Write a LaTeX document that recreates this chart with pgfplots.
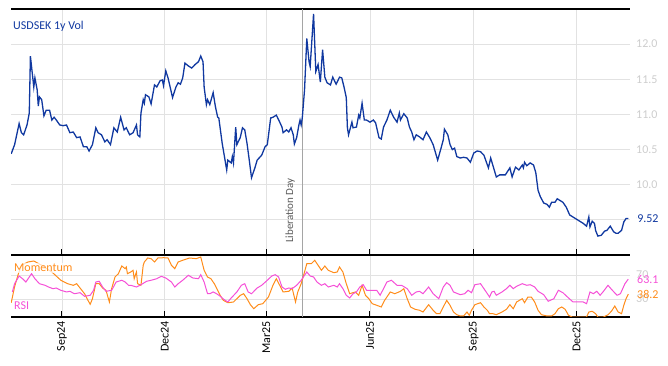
\documentclass[border=0pt]{standalone}
\usepackage{fontspec}
\setmainfont{Carlito}
\usepackage{pgfplots}
\pgfplotsset{compat=1.18}
\definecolor{volc}{RGB}{16,56,160}
\definecolor{momc}{RGB}{255,140,26}
\definecolor{rsic}{RGB}{245,80,215}
\definecolor{gridc}{RGB}{226,226,226}
\definecolor{labgray}{RGB}{205,205,205}
\definecolor{libline}{RGB}{165,165,165}
\definecolor{libtext}{RGB}{90,90,90}
\pgfplotsset{
  panel/.style={
    scale only axis, width=619bp,
    xmin=-45.2, xmax=503.5,
    separate axis lines,
    x axis line style={black, line width=1.2bp},
    y axis line style={draw=none},
    xtick={0,91,181,273,365,456},
    xtick pos=left, tick align=inside,
    major tick length=6bp,
    x tick style={black, line width=1bp},
    y tick style={draw=none},
    ytick pos=right, yticklabel pos=right,
    grid=major, major grid style={gridc, line width=0.8bp},
    tick label style={font=\fontsize{12bp}{14bp}\selectfont},
    yticklabel style={text=labgray, anchor=west, xshift=2bp},
    /pgf/number format/assume math mode=true,
  }
}
\begin{document}
\fontsize{12bp}{14bp}\selectfont
\begin{tikzpicture}
\useasboundingbox (0,0) rectangle (668bp,366bp);
% ---------------- top panel ----------------
\begin{axis}[panel, at={(11bp,111bp)}, anchor=south west, height=246bp,
  ymin=9, ymax=12.5, ytick={9.5,10,10.5,11,11.5,12},
  xticklabels={},
  yticklabel style={/pgf/number format/.cd, fixed, fixed zerofill, precision=1}]
\draw[libline, line width=1bp] (axis cs:213,9) -- (axis cs:213,12.5);
\addplot[volc, line width=1.3bp] coordinates {
(-45,10.44) (-42,10.57) (-38,10.87) (-36,10.74) (-34,10.71) (-31,10.85) (-29,11.02) (-28,11.83)
(-25,11.39) (-24,11.52) (-22,11.35) (-21,11.12) (-20,11.25) (-18,11.21) (-16,10.98) (-14,11.06)
(-11,11.06) (-9,10.92) (-7,10.96) (-5,10.92) (-2,10.85) (1,10.84) (4,10.85) (7,10.74) (10,10.75)
(13,10.67) (16,10.68) (19,10.54) (22,10.54) (24,10.48) (27,10.57) (30,10.81) (32,10.74) (35,10.71)
(38,10.61) (40,10.64) (43,10.57) (46,10.81) (49,10.75) (52,10.96) (55,10.78) (57,10.81) (60,10.71)
(63,10.74) (66,10.85) (67,10.71) (69,10.68) (70,11.02) (72,11.21) (73,11.16) (74,11.28) (77,11.25)
(79,11.15) (82,11.42) (84,11.39) (87,11.48) (89,11.49) (90,11.41) (92,11.62) (94,11.52) (98,11.24)
(101,11.39) (103,11.45) (105,11.43) (107,11.52) (109,11.73) (112,11.69) (115,11.66) (118,11.71)
(121,11.75) (123,11.83) (125,11.75) (126,11.39) (128,11.14) (129,11.21) (131,11.14) (134,11.31)
(136,11.11) (138,10.96) (139,10.95) (142,10.59) (144,10.40) (146,10.21) (147,10.35) (150,10.31)
(151,10.40) (152,10.31) (154,10.82) (155,10.57) (158,10.67) (160,10.81) (162,10.78) (164,10.59)
(166,10.35) (168,10.10) (171,10.24) (173,10.35) (177,10.42) (180,10.54) (182,10.57) (185,10.95)
(187,10.96) (190,10.99) (193,10.89) (195,10.82) (196,10.74) (199,10.78) (201,10.75) (203,10.81)
(205,10.71) (206,10.58) (208,10.67) (210,10.85) (211,10.92) (212,10.85) (213,10.95) (215,11.35)
(217,12.08) (219,11.75) (220,11.68) (223,12.43) (225,11.61) (227,11.71) (229,11.46) (231,11.92)
(233,11.53) (235,11.45) (238,11.42) (240,11.53) (243,11.43) (246,11.53) (248,11.52) (250,11.39)
(252,11.24) (253,10.81) (254,10.71) (257,10.89) (258,10.81) (261,10.82) (263,10.99) (264,10.95)
(266,11.16) (268,10.92) (270,10.92) (273,10.89) (276,10.92) (278,10.88) (281,10.67) (283,10.65)
(285,10.82) (288,10.92) (291,11.06) (294,10.96) (297,10.89) (299,11.02) (300,10.92) (303,11.01)
(306,10.95) (308,10.82) (310,10.75) (312,10.64) (314,10.71) (317,10.68) (320,10.64) (323,10.75)
(326,10.67) (329,10.57) (333,10.35) (336,10.52) (338,10.64) (339,10.79) (342,10.71) (344,10.57)
(346,10.50) (348,10.52) (350,10.40) (353,10.38) (356,10.39) (359,10.38) (362,10.32) (365,10.45)
(368,10.48) (371,10.47) (374,10.42) (378,10.24) (380,10.38) (385,10.11) (388,10.14) (393,10.14)
(397,10.24) (399,10.11) (402,10.25) (405,10.21) (408,10.28) (409,10.24) (410,10.32) (412,10.27)
(415,10.31) (418,10.28) (420,10.17) (422,9.92) (424,9.83) (427,9.74) (430,9.72) (432,9.68)
(434,9.75) (437,9.75) (439,9.80) (442,9.77) (444,9.75) (447,9.68) (450,9.57) (453,9.54) (456,9.51)
(459,9.48) (462,9.45) (465,9.41) (467,9.54) (468,9.40) (470,9.48) (472,9.45) (473,9.35) (475,9.27)
(478,9.28) (481,9.34) (483,9.35) (486,9.41) (489,9.33) (491,9.31) (493,9.31) (496,9.35) (498,9.47)
(500,9.52) (502,9.52)};
\end{axis}
% ---------------- bottom panel ----------------
\begin{axis}[panel, at={(11bp,49bp)}, anchor=south west, height=62bp,
  ymin=0, ymax=103.3, ytick={30,70},
  xticklabels={Sep24,Dec24,Mar25,Jun25,Sep25,Dec25},
  xticklabel style={rotate=90, anchor=east, text=black}]
\draw[libline, line width=1bp] (axis cs:213,0) -- (axis cs:213,103.3);
\addplot[momc, line width=1bp] coordinates {
(-45,23.8) (-42,50.5) (-39,70) (-36,86.2) (-30,91.7) (-25,93.3) (-18,86.2) (-9,75) (-1,61.2)
(5,55.5) (10,52.8) (13,55.5) (16,48.3) (20,38.8) (23,27.8) (25,21.2) (27,30.5) (30,55.5) (33,55.5)
(36,48.3) (39,44.5) (42,25) (44,47.2) (47,66.7) (50,72.2) (53,85) (56,80.5) (57,83.3) (58,72.2)
(61,75) (63,77.8) (64,63.8) (66,75) (67,55.5) (70,52.8) (72,86.2) (73,91.7) (76,98.3) (79,97.2)
(82,91.7) (85,98.3) (90,98.8) (94,98.3) (97,86.2) (100,80.5) (103,91.7) (107,94.5) (113,98.3)
(119,97.2) (123,100) (126,77.8) (129,66.7) (132,63.8) (135,55.5) (140,36.7) (143,27.8) (147,23.8)
(152,25) (155,30.5) (158,36) (161,38.8) (164,30.5) (167,20.5) (170,13.8) (174,20.5) (178,22.2)
(183,33.3) (187,52.8) (190,63.8) (193,52.8) (196,41.7) (201,42.8) (204,48.3) (207,25) (209,41.7)
(212,55.5) (215,75) (217,88.8) (221,88.8) (224,94.5) (227,86.2) (230,77.8) (233,85) (236,77.8)
(241,73.8) (244,75) (246,83.3) (249,75) (252,55.5) (255,38.8) (260,41.7) (263,36.2) (266,52.8)
(269,36.2) (272,30.5) (275,22.2) (279,19.5) (283,16.7) (286,27.8) (291,41.7) (295,38.8) (300,42.8)
(303,47.2) (306,30.5) (309,16.7) (313,12.8) (317,11.2) (320,8.3) (325,20.5) (329,11.2) (332,5.5)
(335,5.5) (338,16.7) (341,27.8) (344,19.5) (347,8.3) (350,3.8) (353,1.7) (356,1.7) (359,8.3)
(361,2.8) (363,11.2) (366,20.5) (371,23.8) (374,16.7) (377,11.2) (379,5.5) (382,5.5) (385,3.8)
(390,8.3) (394,12.8) (397,20.5) (400,13.8) (403,25) (408,30.5) (410,23.8) (413,33.3) (416,33.3)
(419,25) (422,11.2) (425,3.8) (430,1.7) (434,1.7) (437,5.5) (440,13.8) (443,16.7) (446,12.8)
(449,2.8) (452,0) (456,0) (461,0) (465,0) (467,8.3) (470,9.5) (473,5.5) (475,0) (480,0) (484,3.8)
(487,9.5) (490,18.3) (493,8.3) (496,5.5) (498,19.5) (500,30.5) (502,38.2)};
\addplot[rsic, line width=1bp] coordinates {
(-44,41.7) (-42,55.5) (-38,68.3) (-35,63.8) (-32,58.3) (-27,72.2) (-24,63.8) (-20,55.5) (-15,52.8)
(-12,50) (-8,47.2) (-5,48.3) (-1,44.5) (4,41.7) (7,42.8) (11,38.8) (16,40.5) (20,34.5) (25,36.2)
(28,44.5) (30,58.3) (33,59.5) (36,50) (39,42.8) (44,44.5) (48,58.3) (53,61.2) (56,58.3) (59,52.8)
(61,52.8) (66,50) (70,53.8) (75,59.5) (79,61.2) (84,63.8) (88,67.8) (92,65) (97,58.3) (100,50)
(103,55.5) (107,61.2) (112,69.5) (116,65) (121,63.8) (123,70.5) (126,58.3) (129,38.8) (131,38.8)
(134,41.7) (137,38.8) (140,35) (143,30) (147,25) (150,31.7) (155,41.7) (159,52.8) (162,55.5)
(165,41.7) (168,38.8) (173,48.3) (177,52.8) (181,59.5) (186,68.3) (189,70.5) (192,66.7) (195,50)
(198,46.2) (201,48.3) (204,47.2) (208,52.8) (212,61.2) (217,75) (220,68.3) (223,66.7) (226,58.3)
(230,52.8) (233,55.5) (236,50) (241,52.8) (244,50) (246,55.5) (249,47.2) (252,36.2) (255,31.7)
(258,38.8) (261,41.7) (264,50) (267,53.8) (270,44.5) (275,44.5) (279,44.5) (282,36.2) (285,47.2)
(288,58.3) (292,61.2) (297,52.8) (301,52.8) (306,47.2) (310,36.2) (314,41.7) (317,42.8) (320,38.8)
(325,50) (329,38.8) (334,30.5) (338,50) (341,57.2) (344,52.8) (347,41.7) (353,37.2) (357,38.8)
(360,44.5) (363,40.5) (366,53.8) (371,55.5) (375,44.5) (379,33.3) (381,41.7) (383,42.8) (385,36.2)
(390,41.7) (394,47.2) (397,52.8) (400,47.2) (403,51.2) (408,55.5) (412,52.8) (415,53.8) (419,50)
(422,42.8) (427,37.2) (431,26.2) (436,30.5) (440,44.5) (444,40.5) (449,31.7) (453,25) (458,25)
(462,25) (465,22.2) (468,41.7) (471,38.8) (474,42.8) (477,36.2) (480,42.8) (484,52.8) (487,46.2)
(492,36.2) (495,38.8) (499,55.5) (502,63.1)};
\end{axis}
% ---------------- annotations ----------------
\node[anchor=base west, text=volc, inner sep=0pt] at (13bp,336.7bp) {USDSEK 1y Vol};
\node[anchor=base west, text=momc, fill=white, fill opacity=0.7, text opacity=1, inner sep=1bp] at (13bp,94.3bp) {Momentum};
\node[anchor=base west, text=rsic, fill=white, fill opacity=0.7, text opacity=1, inner sep=1bp] at (13bp,56bp) {RSI};
\node[anchor=base west, text=volc, fill=white, inner sep=0.6bp] at (636.5bp,143.3bp) {9.52};
\node[anchor=west, text=rsic, inner sep=0pt] at (637bp,87bp) {63.1};
\node[anchor=west, text=momc, inner sep=0pt] at (637bp,72bp) {38.2};
\node[rotate=90, anchor=south west, text=libtext, inner sep=0pt, font=\fontsize{11bp}{13bp}\selectfont] at (295bp,123bp) {Liberation Day};
\end{tikzpicture}
\end{document}
